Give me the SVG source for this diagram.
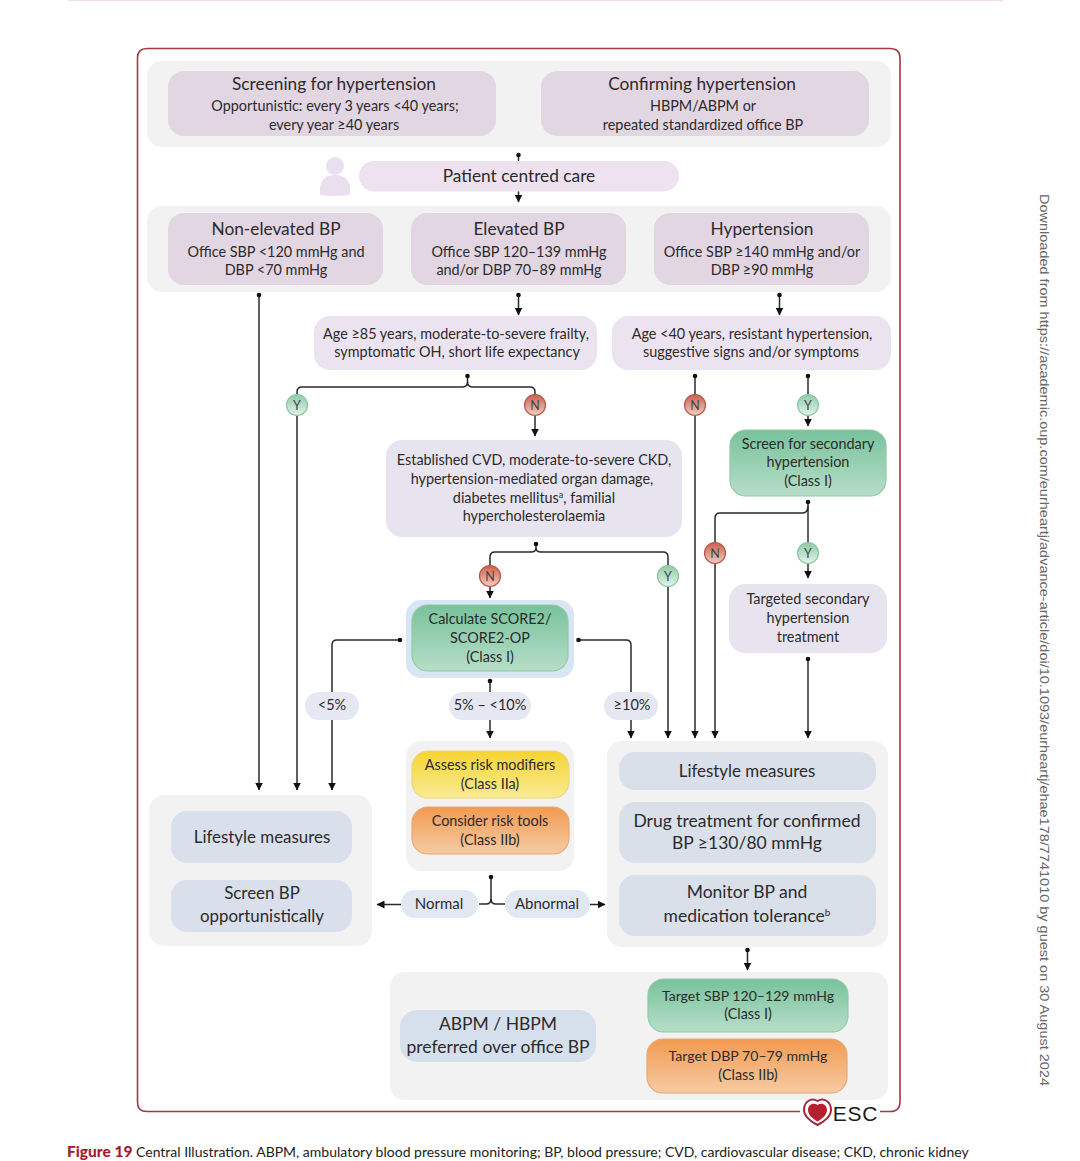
<svg xmlns="http://www.w3.org/2000/svg" width="1080" height="1161" viewBox="0 0 1080 1161">
<style>
text{font-family:"Lato","Noto Sans",sans-serif;fill:#2b2b2b;text-anchor:middle}
.h{font-size:17.300px}.b{font-size:14.400px}.m{font-size:15px}.l{font-size:17.500px}.f{font-size:16.900px}.s{font-size:14.500px}
.panel{fill:#f2f2f3}.pur{fill:#e3d6e3}.lil{fill:#ebe4f0}.lav{fill:#e7e4ef}.blu{fill:#dae0ea}.pill{fill:#e5e8f3}.npill{fill:#e1e8f2}
.con{fill:none;stroke:#2a2a2a;stroke-width:1.500}
.gr{fill:url(#g);stroke:#8fc9a8;stroke-width:1.200}.ye{fill:url(#y);stroke:#ecd77a;stroke-width:1.200}.or{fill:url(#o);stroke:#e6a873;stroke-width:1.200}
.cy{fill:url(#cy);stroke:#8cc5a5;stroke-width:1.200}.cn{fill:url(#cn);stroke:#b5574a;stroke-width:1.200}
.t{font-size:12.500px;fill:#444}
</style>
<defs>
<linearGradient id="g" x1="0" y1="0" x2="0" y2="1"><stop offset="0" stop-color="#78c29c"/><stop offset="1" stop-color="#b7dec8"/></linearGradient>
<linearGradient id="y" x1="0" y1="0" x2="0" y2="1"><stop offset="0" stop-color="#f7d433"/><stop offset="1" stop-color="#f8ea94"/></linearGradient>
<linearGradient id="o" x1="0" y1="0" x2="0" y2="1"><stop offset="0" stop-color="#f29a51"/><stop offset="1" stop-color="#f6cba2"/></linearGradient>
<linearGradient id="cy" x1="0" y1="0" x2="0" y2="1"><stop offset="0" stop-color="#8ccba8"/><stop offset="1" stop-color="#e3f3ea"/></linearGradient>
<linearGradient id="cn" x1="0" y1="0" x2="0" y2="1"><stop offset="0" stop-color="#c9604f"/><stop offset="1" stop-color="#f3cdbf"/></linearGradient>
<marker id="a" markerWidth="10" markerHeight="8" refX="7.500" refY="4" orient="auto" markerUnits="userSpaceOnUse"><path d="M0 0L8 4L0 8Z" fill="#111"/></marker>
<marker id="d" markerWidth="6" markerHeight="6" refX="3" refY="3" markerUnits="userSpaceOnUse"><circle cx="3" cy="3" r="2.300" fill="#111"/></marker>
</defs>
<rect x="68" y="-1" width="935" height="2" fill="#f3dfe2"/>
<path id="frame" d="M800 1111.500H147Q137.500 1111.500 137.500 1102V58Q137.500 48.500 147 48.500H890Q900 48.500 900 58V1102Q900 1111.500 890 1111.500H880" fill="none" stroke="#a23a45" stroke-width="1.600"/>

<rect class="panel" x="147" y="61" width="744" height="86" rx="15"/>
<rect class="panel" x="147" y="206" width="744" height="86" rx="15"/>

<g id="connectors">
<path class="con" d="M518.500 155V161" marker-start="url(#d)"/>
<path class="con" d="M518.500 191V202" marker-end="url(#a)"/>
<path class="con" d="M259 295V790" marker-start="url(#d)" marker-end="url(#a)"/>
<path class="con" d="M518.500 295V315" marker-start="url(#d)" marker-end="url(#a)"/>
<path class="con" d="M779.500 295V315" marker-start="url(#d)" marker-end="url(#a)"/>
<path class="con" d="M467.500 376V382Q467.500 387 462 387H302Q297 387 297 392V790" marker-start="url(#d)" marker-end="url(#a)"/>
<path class="con" d="M467.500 382Q467.500 387 473 387H530Q535 387 535 392V436" marker-end="url(#a)"/>
<path class="con" d="M695 376V738" marker-start="url(#d)" marker-end="url(#a)"/>
<path class="con" d="M808 376V426" marker-start="url(#d)" marker-end="url(#a)"/>
<path class="con" d="M808 502V578" marker-start="url(#d)" marker-end="url(#a)"/>
<path class="con" d="M808 506Q808 513 802 513H720Q715 513 715 518V738" marker-end="url(#a)"/>
<path class="con" d="M536 544V548Q536 552 531 552H495Q490 552 490 557V598" marker-start="url(#d)" marker-end="url(#a)"/>
<path class="con" d="M536 548Q536 552 541 552H663Q668 552 668 557V738" marker-end="url(#a)"/>
<path class="con" d="M400 640H337Q332 640 332 645V790" marker-start="url(#d)" marker-end="url(#a)"/>
<path class="con" d="M578.500 640H626Q631 640 631 645V738" marker-start="url(#d)" marker-end="url(#a)"/>
<path class="con" d="M490 681V738" marker-start="url(#d)" marker-end="url(#a)"/>
<path class="con" d="M808 659V738" marker-start="url(#d)" marker-end="url(#a)"/>
<path class="con" d="M491 877V899Q491 904 486 904H479" marker-start="url(#d)"/>
<path class="con" d="M491 899Q491 904 496 904H505"/>
<path class="con" d="M401 904.500H377" marker-end="url(#a)"/>
<path class="con" d="M590 904.500H605" marker-end="url(#a)"/>
<path class="con" d="M747.500 950V970" marker-start="url(#d)" marker-end="url(#a)"/>
</g>

<g id="screening"><rect class="pur" x="168" y="71" width="328" height="65" rx="16"/><text class="h" x="334" y="90">Screening for hypertension</text><text class="b" x="335" y="111">Opportunistic: every 3 years &lt;40 years;</text><text class="b" x="334" y="130">every year ≥40 years</text></g>
<g id="confirming"><rect class="pur" x="541" y="71" width="328" height="65" rx="16"/><text class="h" x="702" y="90">Confirming hypertension</text><text class="b" x="703" y="111">HBPM/ABPM or</text><text class="b" x="703" y="130">repeated standardized office BP</text></g>
<g id="patient">
<circle cx="335" cy="166" r="9" fill="#eadfee"/><path d="M320 195Q318 175 335 175Q352 175 350 195Q335 197 320 195Z" fill="#eadfee"/>
<rect x="359" y="161" width="320" height="30.500" rx="15" fill="#eee2f0"/><text class="h" x="519" y="182">Patient centred care</text></g>
<g id="nonelevated"><rect class="pur" x="168" y="213" width="215" height="72" rx="16"/><text class="h" x="276" y="235">Non-elevated BP</text><text class="b" x="276" y="257">Office SBP &lt;120 mmHg and</text><text class="b" x="276" y="275">DBP &lt;70 mmHg</text></g>
<g id="elevated"><rect class="pur" x="411" y="213" width="215" height="72" rx="16"/><text class="h" x="519" y="235">Elevated BP</text><text class="b" x="519" y="257">Office SBP 120–139 mmHg</text><text class="b" x="519" y="275">and/or DBP 70–89 mmHg</text></g>
<g id="hypertension"><rect class="pur" x="654" y="213" width="215" height="72" rx="16"/><text class="h" x="762" y="235">Hypertension</text><text class="b" x="762" y="257">Office SBP ≥140 mmHg and/or</text><text class="b" x="762" y="275">DBP ≥90 mmHg</text></g>
<g id="age85"><rect class="lil" x="314" y="316" width="283" height="54" rx="16"/><text class="b" x="456" y="339">Age ≥85 years, moderate-to-severe frailty,</text><text class="b" x="457" y="357">symptomatic OH, short life expectancy</text></g>
<g id="age40"><rect class="lil" x="612" y="316" width="279" height="54" rx="16"/><text class="b" x="752" y="339">Age &lt;40 years, resistant hypertension,</text><text class="b" x="751" y="357">suggestive signs and/or symptoms</text></g>
<g id="established"><rect class="lav" x="386" y="440" width="296" height="97" rx="16"/><text class="b" x="534" y="465">Established CVD, moderate-to-severe CKD,</text><text class="b" x="532" y="484">hypertension-mediated organ damage,</text><text class="b" x="534" y="503">diabetes mellitus<tspan font-size="9" dy="-5">a</tspan><tspan dy="5">, familial</tspan></text><text class="b" x="534" y="521">hypercholesterolaemia</text></g>
<g id="secondary"><rect class="gr" x="730" y="430" width="156" height="66" rx="16"/><text class="b" x="808" y="449">Screen for secondary</text><text class="b" x="808" y="467">hypertension</text><text class="b" x="808" y="486">(Class I)</text></g>
<g id="targeted"><rect class="lav" x="729" y="584" width="158" height="69" rx="16"/><text class="b" x="808" y="604">Targeted secondary</text><text class="b" x="808" y="623">hypertension</text><text class="b" x="808" y="642">treatment</text></g>
<g id="score"><rect x="406" y="600" width="168" height="78" rx="15" fill="#d8e5f2"/><rect class="gr" x="412" y="605" width="156" height="66" rx="16"/><text class="b" x="490" y="624">Calculate SCORE2/</text><text class="b" x="490" y="643">SCORE2-OP</text><text class="b" x="490" y="662">(Class I)</text></g>
<g id="pill5"><rect class="pill" x="305" y="692" width="54" height="28" rx="14"/><text class="s" x="332" y="710">&lt;5%</text></g>
<g id="pill510"><rect class="pill" x="449" y="692" width="82" height="28" rx="14"/><text class="s" x="490" y="710">5% – &lt;10%</text></g>
<g id="pill10"><rect class="pill" x="604" y="692" width="54" height="28" rx="14"/><text class="s" x="632" y="710">≥10%</text></g>

<g id="riskpanel"><rect class="panel" x="406" y="741" width="168" height="130" rx="15"/>
<rect class="ye" x="412" y="751" width="157" height="47" rx="16"/><text class="b" x="490" y="770">Assess risk modifiers</text><text class="b" x="490" y="789">(Class IIa)</text>
<rect class="or" x="412" y="807" width="157" height="47" rx="16"/><text class="b" x="490" y="826">Consider risk tools</text><text class="b" x="490" y="845">(Class IIb)</text></g>
<g id="leftpanel"><rect class="panel" x="149" y="795" width="223" height="151" rx="15"/>
<rect class="npill" x="171" y="811" width="181" height="52" rx="16" style="fill:#d9e0eb"/><text class="f" x="262" y="843">Lifestyle measures</text>
<rect class="npill" x="171" y="880" width="181" height="52" rx="16" style="fill:#d9e0eb"/><text class="f" x="262" y="899">Screen BP</text><text class="f" x="262" y="922">opportunistically</text></g>
<g id="normal"><rect class="npill" x="401" y="890" width="77" height="28" rx="14"/><text class="m" x="439" y="909">Normal</text></g>
<g id="abnormal"><rect class="npill" x="505" y="890" width="85" height="28" rx="14"/><text class="m" x="547" y="909">Abnormal</text></g>
<g id="rightpanel"><rect class="panel" x="607" y="741" width="281" height="206" rx="15"/>
<rect class="blu" x="619" y="752" width="257" height="38" rx="16"/><text class="f" x="747" y="777">Lifestyle measures</text>
<rect class="blu" x="619" y="802" width="257" height="61" rx="16"/><text class="l" x="747" y="827">Drug treatment for confirmed</text><text class="l" x="747" y="849">BP ≥130/80 mmHg</text>
<rect class="blu" x="619" y="875" width="257" height="61" rx="16"/><text class="l" x="747" y="898">Monitor BP and</text><text class="l" x="747" y="922">medication tolerance<tspan font-size="10" dy="-6">b</tspan></text></g>
<g id="bottompanel"><rect class="panel" x="390" y="972" width="498" height="128" rx="15"/>
<rect x="400" y="1010" width="196" height="52" rx="17" fill="#d6e0ed"/><text class="l" x="498" y="1030">ABPM / HBPM</text><text class="l" x="498" y="1053">preferred over office BP</text>
<rect class="gr" x="648" y="979" width="200" height="53" rx="16"/><text class="b" x="748" y="1001" style="font-size:14.100px">Target SBP 120–129 mmHg</text><text class="b" x="748" y="1019">(Class I)</text>
<rect class="or" x="647" y="1039" width="200" height="54" rx="16"/><text class="b" x="748" y="1061" style="font-size:14.100px">Target DBP 70–79 mmHg</text><text class="b" x="748" y="1080">(Class IIb)</text></g>

<g id="badges">
<circle class="cy" cx="297" cy="405" r="10.500"/><text class="t" x="297" y="410">Y</text>
<circle class="cn" cx="535" cy="405" r="10.500"/><text class="t" x="535" y="410">N</text>
<circle class="cn" cx="695" cy="405" r="10.500"/><text class="t" x="695" y="410">N</text>
<circle class="cy" cx="808" cy="405" r="10.500"/><text class="t" x="808" y="410">Y</text>
<circle class="cn" cx="715" cy="553" r="10.500"/><text class="t" x="715" y="558">N</text>
<circle class="cy" cx="808" cy="553" r="10.500"/><text class="t" x="808" y="558">Y</text>
<circle class="cn" cx="490" cy="576" r="10.500"/><text class="t" x="490" y="581">N</text>
<circle class="cy" cx="668" cy="576" r="10.500"/><text class="t" x="668" y="581">Y</text>
</g>

<g id="esc">
<path d="M817.500 1101C811 1097 804 1102 804 1110C804 1116 811 1122 817.500 1125C824 1122 831 1116 831 1110C831 1102 824 1097 817.500 1101Z" fill="#fff" stroke="#a3283a" stroke-width="2"/>
<path d="M817.500 1105C813 1102 808 1105 808 1110C808 1115 813 1119 817.500 1121.500C822 1119 827 1115 827 1110C827 1105 822 1102 817.500 1105Z" fill="#b5202f"/>
<text x="855.500" y="1121" style="font-size:21px;font-family:'Liberation Sans',sans-serif;letter-spacing:.8px;fill:#1c1c1c">ESC</text>
</g>
<text x="67" y="1157" style="text-anchor:start;font-size:14px;fill:#222"><tspan style="font-weight:900;fill:#a6192e;font-size:15.500px">Figure 19</tspan> Central Illustration. ABPM, ambulatory blood pressure monitoring; BP, blood pressure; CVD, cardiovascular disease; CKD, chronic kidney</text>
<text transform="translate(1040 194) rotate(90)" x="0" y="0" textLength="892" lengthAdjust="spacingAndGlyphs" style="text-anchor:start;font-family:'Liberation Sans',sans-serif;font-size:13.500px;fill:#666">Downloaded from https://academic.oup.com/eurheartj/advance-article/doi/10.1093/eurheartj/ehae178/7741010 by guest on 30 August 2024</text>
</svg>
